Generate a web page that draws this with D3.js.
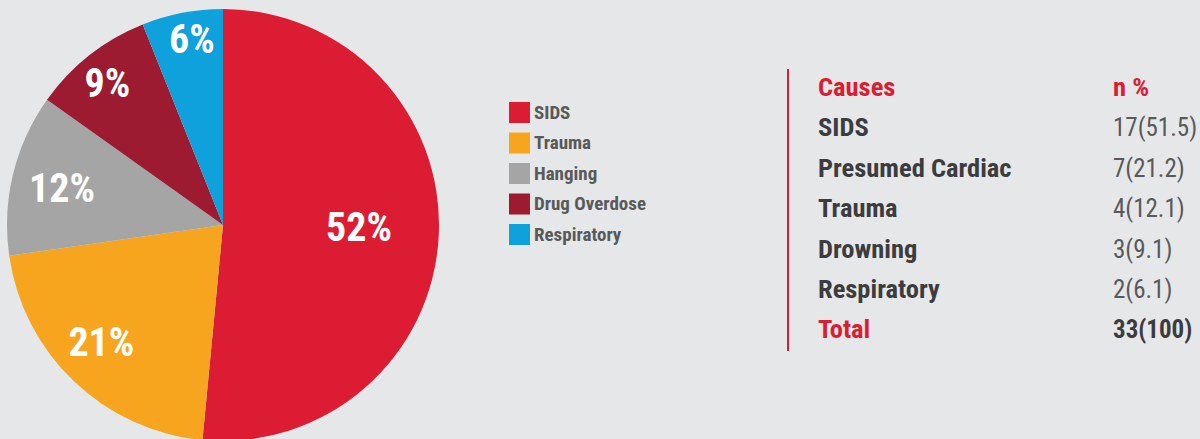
<!DOCTYPE html>
<html>
<head>
<meta charset="utf-8">
<script src="https://cdn.jsdelivr.net/npm/d3@7"></script>
<style>
  html, body { margin: 0; padding: 0; background: #e6e7e8; }
  svg { display: block; }
  text { font-family: "Liberation Sans Narrow", "Roboto Condensed", "Arial Narrow", sans-serif; }
</style>
</head>
<body>
<svg id="chart" width="1200" height="439"></svg>
<script>
// Pie: causes of death, counts
const pieCategories = ["SIDS", "Trauma", "Hanging", "Drug Overdose", "Respiratory"];
const pieCounts = [17, 7, 4, 3, 2];
const pieColors = ["#dc1c33", "#f7a51f", "#a5a5a5", "#9c1b31", "#0ea1dc"];

// Table: causes with n (%)
const tableHeader = ["Causes", "n %"];
const tableCauses = ["SIDS", "Presumed Cardiac", "Trauma", "Drowning", "Respiratory"];
const tableCounts = [17, 7, 4, 3, 2];
const tablePercents = ["51.5", "21.2", "12.1", "9.1", "6.1"];
const tableTotal = ["Total", "33(100)"];

const svg = d3.select("#chart");

// ---- pie ----
const cx = 223, cy = 225, R = 216;
const total = d3.sum(pieCounts);
const pieData = pieCategories.map((c, i) => ({ cat: c, n: pieCounts[i], color: pieColors[i] }));
const pie = d3.pie().value(d => d.n).sort(null);
const arc = d3.arc().innerRadius(0).outerRadius(R);
const arcs = pie(pieData);

const g = svg.append("g").attr("transform", `translate(${cx},${cy})`);
g.selectAll("path.slice").data(arcs).join("path")
  .attr("class", "slice")
  .attr("d", arc)
  .attr("fill", d => d.data.color);

// label placement per slice: radius (fraction of R) and angular nudge (radians)
const labelRadius = [0.63, 0.78, 0.765, 0.85, 0.875];
const labelNudge = [-0.035, 0.045, -0.01, -0.015, 0.025];
g.selectAll("text.pct").data(arcs).join("text")
  .attr("class", "pct")
  .attr("transform", (d, i) => {
    const a = (d.startAngle + d.endAngle) / 2 + labelNudge[i];
    const r = R * labelRadius[i];
    return `translate(${r * Math.sin(a)},${-r * Math.cos(a)})`;
  })
  .attr("text-anchor", "middle")
  .attr("dy", "0.36em")
  .attr("fill", "#ffffff")
  .attr("font-weight", "bold")
  .attr("font-size", 40)
  .text(d => Math.round(d.data.n / total * 100) + "%");

// ---- legend ----
const lg = svg.append("g").attr("transform", "translate(509,102)");
const rowH = 30.5;
const items = lg.selectAll("g").data(pieData).join("g")
  .attr("transform", (d, i) => `translate(0,${i * rowH})`);
items.append("rect").attr("width", 21).attr("height", 21).attr("fill", d => d.color);
items.append("text")
  .attr("x", 25).attr("y", 16.5)
  .attr("font-size", 19).attr("font-weight", "bold")
  .attr("fill", "#58595b")
  .text(d => d.cat);

// ---- table ----
svg.append("line")
  .attr("x1", 788).attr("x2", 788).attr("y1", 69).attr("y2", 351)
  .attr("stroke", "#dc1c33").attr("stroke-width", 2);

const col1 = 818, col2 = 1113, y0 = 96, tRow = 40.4, fsLabel = 26.5, fsValue = 25;
const tg = svg.append("g");
tg.append("text").attr("x", col1).attr("y", y0).attr("font-size", fsLabel).attr("font-weight", "bold")
  .attr("fill", "#dc1c33").text(tableHeader[0]);
tg.append("text").attr("x", col2).attr("y", y0).attr("font-size", fsLabel).attr("font-weight", "bold")
  .attr("fill", "#dc1c33").text(tableHeader[1]);

tableCauses.forEach((c, i) => {
  const y = y0 + (i + 1) * tRow;
  tg.append("text").attr("x", col1).attr("y", y).attr("font-size", fsLabel).attr("font-weight", "bold")
    .attr("fill", "#3c3c3e").text(c);
  tg.append("text").attr("x", col2).attr("y", y).attr("font-size", fsValue)
    .attr("fill", "#58595b").text(`${tableCounts[i]}(${tablePercents[i]})`);
});
const yT = y0 + (tableCauses.length + 1) * tRow;
tg.append("text").attr("x", col1).attr("y", yT).attr("font-size", fsLabel).attr("font-weight", "bold")
  .attr("fill", "#dc1c33").text(tableTotal[0]);
tg.append("text").attr("x", col2).attr("y", yT).attr("font-size", fsValue).attr("font-weight", "bold")
  .attr("fill", "#3c3c3e").text(tableTotal[1]);
</script>
</body>
</html>
